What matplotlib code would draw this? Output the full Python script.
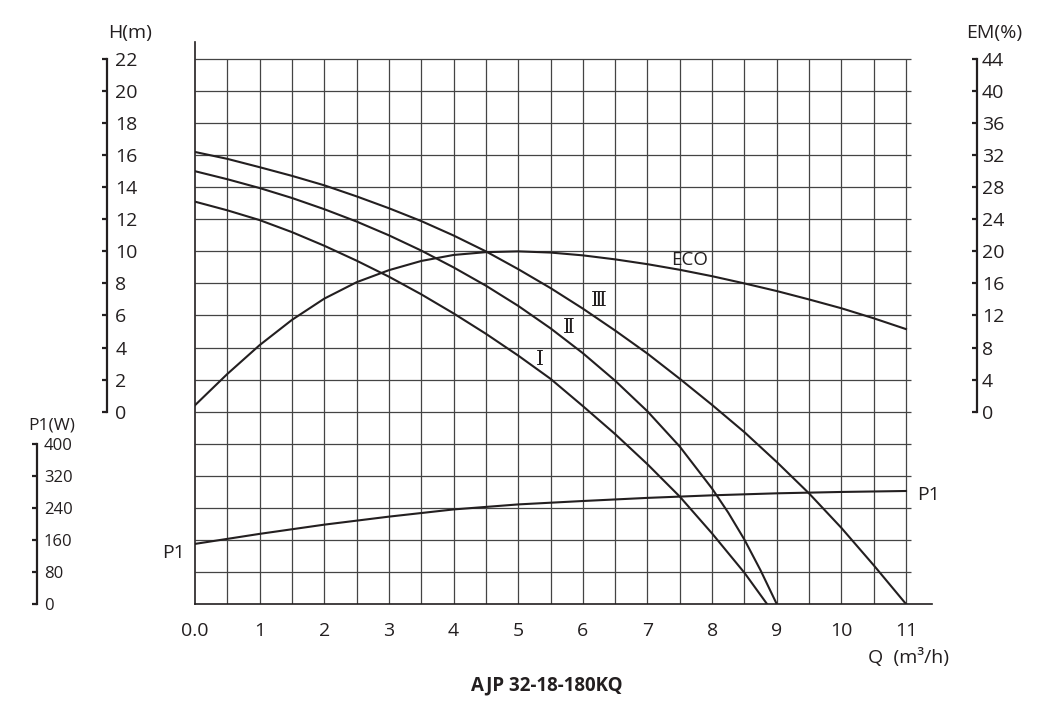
import matplotlib
matplotlib.use("Agg")
import matplotlib.pyplot as plt
import numpy as np

plt.rcParams['font.family'] = ['Open Sans', 'DejaVu Sans']

INK = '#231f20'
GRID = '#444444'

# flow rate Q (m3/h) sampled along the curves
q_half = [0, 0.5, 1, 1.5, 2, 2.5, 3, 3.5, 4, 4.5, 5, 5.5, 6, 6.5, 7, 7.5, 8,
          8.5, 9, 9.5, 10, 10.5, 11]

# head H (m) for the three speed settings
q_iii = q_half
h_iii = [16.2, 15.77, 15.25, 14.71, 14.12, 13.43, 12.69, 11.89, 10.99, 10.0, 8.89,
         7.71, 6.43, 5.06, 3.62, 2.05, 0.42, -1.28, -3.14, -5.1, -7.25, -9.58, -12.0]

q_ii = [0, 0.5, 1, 1.5, 2, 2.5, 3, 3.5, 4, 4.5, 5, 5.5, 6, 6.5, 7, 7.5, 8,
        8.25, 8.5, 8.75, 9]
h_ii = [15.0, 14.5, 13.95, 13.33, 12.63, 11.86, 11.0, 10.05, 9.0, 7.86, 6.6,
        5.2, 3.65, 1.93, 0.02, -2.18, -4.8, -6.3, -7.98, -9.9, -12.0]

q_i = [0, 0.5, 1, 1.5, 2, 2.5, 3, 3.5, 4, 4.5, 5, 5.5, 6, 6.5, 7, 7.5, 8,
       8.5, 8.85]
h_i = [13.1, 12.56, 11.95, 11.2, 10.35, 9.42, 8.42, 7.32, 6.13, 4.86, 3.5,
       2.05, 0.35, -1.4, -3.28, -5.3, -7.6, -10.05, -12.0]

# efficiency EM (%)
q_eco = q_half
em_eco = [0.8, 4.7, 8.3, 11.45, 14.1, 16.15, 17.65, 18.8, 19.55, 19.9, 20.0, 19.85,
          19.5, 19.0, 18.4, 17.7, 16.9, 16.0, 15.05, 14.0, 12.9, 11.65, 10.3]

# input power P1 (W)
q_p1 = [0, 1, 2, 3, 4, 5, 6, 7, 8, 9, 10, 11]
p1 = [150, 175, 198, 218, 236, 248.5, 257, 264.8, 271.2, 276.2, 279.6, 282]

h_ticks = list(range(0, 23, 2))
em_ticks = list(range(0, 45, 4))
p1_ticks = list(range(0, 401, 80))
q_ticks = list(range(0, 12))
q_tick_labels = ['0.0'] + [str(v) for v in q_ticks[1:]]

W, H = 1037, 709
fig = plt.figure(figsize=(W / 100, H / 100), dpi=100)

# main grid axes (pixel layout)
x0, x1 = 195, 932
y_top, y_bot = 42, 604
h_lo = -12
px_per_m = (y_bot - 59) / 34.0
h_hi = h_lo + (y_bot - y_top) / px_per_m
px_per_q = (906 - 195) / 11.0
q_hi = (x1 - x0) / px_per_q

ax = fig.add_axes([x0 / W, 1 - y_bot / H, (x1 - x0) / W, (y_bot - y_top) / H])
ax.set_xlim(0, q_hi)
ax.set_ylim(h_lo, h_hi)
for s in ['top', 'right']:
    ax.spines[s].set_visible(False)
for s in ['left', 'bottom']:
    ax.spines[s].set_color(INK)
    ax.spines[s].set_linewidth(1.2)
ax.set_yticks([])
ax.set_xticks(q_ticks)
ax.set_xticklabels(q_tick_labels)
ax.tick_params(axis='x', length=0, pad=13, labelsize=14, labelcolor=INK)

# grid
q_grid = np.arange(0.5, 11.01, 0.5)
h_grid = np.arange(-10, 22.01, 2)
ax.vlines(q_grid, h_lo, 22, color=GRID, lw=0.9, zorder=1)
ax.hlines(h_grid, 0, (911 - x0) / px_per_q, color=GRID, lw=0.9, zorder=1)

# head curves
for qq, hh in [(q_iii, h_iii), (q_ii, h_ii), (q_i, h_i)]:
    ax.plot(qq, hh, color=INK, lw=1.5, zorder=3, solid_joinstyle='round')


def side_axis(pos_px, lo, hi, ticks, pad, size):
    t = ax.twinx()
    t.set_ylim(lo, hi)
    for s in ['left', 'top', 'bottom']:
        t.spines[s].set_visible(False)
    sp = t.spines['right']
    sp.set_position(('axes', (pos_px - x0) / (x1 - x0)))
    sp.set_bounds(ticks[0], ticks[-1])
    sp.set_linewidth(1.6)
    sp.set_color(INK)
    t.set_yticks(ticks)
    t.tick_params(axis='y', direction='in', length=3.5, width=1.6, color=INK,
                  pad=pad, labelsize=size, labelcolor=INK)
    return t


ax_h = side_axis(107, h_lo, h_hi, h_ticks, 6, 14)
ax_em = side_axis(976.5, 2 * h_lo, 2 * h_hi, em_ticks, 4, 14)
ax_p1 = side_axis(37, 0, (h_hi - h_lo) * 40, p1_ticks, 5, 12)

ax_em.plot(q_eco, em_eco, color=INK, lw=1.5, zorder=3, solid_joinstyle='round')
ax_p1.plot(q_p1, p1, color=INK, lw=1.5, zorder=3)

# curve labels
roman = ['DejaVu Serif', 'DejaVu Sans']
ax.text(7.65, 9.45, 'ECO', fontsize=13.5, color=INK, ha='center', va='center')
ax.text(6.25, 6.95, 'Ⅲ', fontsize=14.5, color=INK, ha='center', va='center', family=roman)
ax.text(5.79, 5.28, 'Ⅱ', fontsize=14.5, color=INK, ha='center', va='center', family=roman)
ax.text(5.33, 3.28, 'Ⅰ', fontsize=14.5, color=INK, ha='center', va='center', family=roman)
ax.text(-0.33, -8.82, 'P1', fontsize=14, color=INK, ha='center', va='center')
ax.text(11.35, -5.2, 'P1', fontsize=14, color=INK, ha='center', va='center')

# axis titles
fig.text(130 / W, 1 - 33 / H, 'H(m)', fontsize=14, color=INK, ha='center', va='center')
fig.text(994 / W, 1 - 33 / H, 'EM(%)', fontsize=14, color=INK, ha='center', va='center')
fig.text(52 / W, 1 - 426 / H, 'P1(W)', fontsize=12.5, color=INK, ha='center', va='center')
fig.text(908 / W, 1 - 657 / H, 'Q  (m³/h)', fontsize=14, color=INK, ha='center', va='center')
fig.text(547 / W, 1 - 685 / H, 'AJP 32-18-180KQ', fontsize=13.5, fontweight='bold',
         color=INK, ha='center', va='center')

fig.savefig('out.png', dpi=100, facecolor='white')
